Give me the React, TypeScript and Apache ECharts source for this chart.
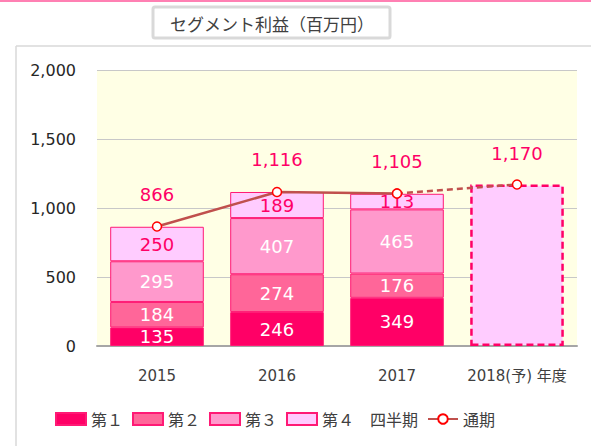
import React, { useEffect, useRef } from "react";
import * as echarts from "echarts";

const categories = ["2015", "2016", "2017", "2018(予) 年度"];
const q1 = [135, 246, 349, "-"];
const q2 = [184, 274, 176, "-"];
const q3 = [295, 407, 465, "-"];
const q4 = [250, 189, 113, "-"];
const forecast = ["-", "-", "-", 1170];
const totalsActual = [866, 1116, 1105, "-"];
const totalsForecast = ["-", "-", 1105, 1170];
const yTicks = { min: 0, max: 2000, interval: 500 };

const FONT = "'DejaVu Sans', 'Noto Sans CJK JP', sans-serif";
const JP = "'Noto Sans CJK JP', 'DejaVu Sans', sans-serif";

const fmt = (v: number) => Number(v).toLocaleString("en-US");

export default function App() {
  const ref = useRef<HTMLDivElement>(null);
  useEffect(() => {
    if (!ref.current) return;
    const chart = echarts.init(ref.current, null, { renderer: "svg" });
    const barBase = (name: string, data: any[], fill: string, labelColor: string) => ({
      name,
      type: "bar",
      stack: "q",
      data,
      barWidth: "78%",
      itemStyle: { color: fill, borderColor: "#ff1a75", borderWidth: 1 },
      label: {
        show: true,
        position: "inside",
        color: labelColor,
        fontSize: 18,
        fontFamily: FONT,
      },
      z: 2,
    });
    chart.setOption({
      animation: false,
      textStyle: { fontFamily: FONT },
      graphic: [
        { type: "line", shape: { x1: 0, y1: 1, x2: 591, y2: 1 }, style: { stroke: "#ff80b3", lineWidth: 2 } },
        { type: "line", shape: { x1: 16, y1: 46, x2: 591, y2: 46 }, style: { stroke: "#d9d9d9", lineWidth: 1.5 } },
        { type: "line", shape: { x1: 16, y1: 46, x2: 16, y2: 446 }, style: { stroke: "#d9d9d9", lineWidth: 1.5 } },
        {
          type: "rect",
          shape: { x: 153, y: 7, width: 237, height: 31, r: 2 },
          style: { fill: "#ffffff", stroke: "#d9d9d9", lineWidth: 3 },
        },
        {
          type: "text",
          x: 272,
          y: 23,
          style: {
            text: "セグメント利益（百万円）",
            fill: "#404040",
            font: `17px ${JP}`,
            align: "center",
            verticalAlign: "middle",
          },
        },
      ],
      grid: {
        left: 97,
        right: 14,
        top: 70,
        bottom: 100,
        show: true,
        backgroundColor: "#ffffe5",
        borderWidth: 0,
      },
      legend: {
        left: 50,
        top: 406,
        itemWidth: 30,
        itemHeight: 12,
        itemGap: 9,
        data: [
          { name: "第１", icon: "rect" },
          { name: "第２", icon: "rect" },
          { name: "第３", icon: "rect" },
          { name: "第４", icon: "rect" },
          { name: "通期" },
        ],
        formatter: (n: string) => (n === "第４" ? "第４　四半期" : n),
        textStyle: { fontSize: 16, color: "#404040", fontFamily: JP },
      },
      xAxis: {
        type: "category",
        data: categories,
        axisLine: { lineStyle: { color: "#a6a6a6", width: 2 } },
        axisTick: { show: false },
        axisLabel: { color: "#404040", fontSize: 15, margin: 22, interval: 0, fontFamily: FONT },
      },
      yAxis: {
        type: "value",
        min: yTicks.min,
        max: yTicks.max,
        interval: yTicks.interval,
        axisLine: { show: false },
        axisTick: { show: false },
        splitLine: { lineStyle: { color: "#c8c8c8", width: 1 } },
        axisLabel: { color: "#262626", fontSize: 16, margin: 21, formatter: (v: number) => fmt(v), fontFamily: FONT },
      },
      series: [
        barBase("第１", q1, "#ff0066", "#ffffff"),
        barBase("第２", q2, "#ff6699", "#ffffff"),
        barBase("第３", q3, "#ff99cc", "#ffffff"),
        barBase("第４", q4, "#ffccff", "#ff0066"),
        {
          name: "予想",
          type: "bar",
          stack: "q",
          data: forecast,
          barWidth: "78%",
          itemStyle: {
            color: "#ffccff",
            borderColor: "#ff0066",
            borderWidth: 2.5,
            borderType: [7, 4],
          },
          z: 2,
        },
        {
          name: "通期",
          type: "line",
          data: totalsActual,
          symbol: "circle",
          symbolSize: 9,
          lineStyle: { color: "#c0504d", width: 2.5 },
          itemStyle: { color: "#ffffff", borderColor: "#ff0000", borderWidth: 1.5 },
          label: {
            show: true,
            position: "top",
            distance: 18,
            color: "#ff0066",
            fontSize: 18,
            fontFamily: FONT,
            formatter: (p: any) => fmt(p.value),
          },
          z: 5,
        },
        {
          name: "通期予",
          type: "line",
          data: totalsForecast,
          symbol: "circle",
          symbolSize: 9,
          lineStyle: { color: "#c0504d", width: 2.5, type: [6, 4] },
          itemStyle: { color: "#ffffff", borderColor: "#ff0000", borderWidth: 1.5 },
          label: {
            show: true,
            position: "top",
            distance: 17,
            color: "#ff0066",
            fontSize: 18,
            fontFamily: FONT,
            formatter: (p: any) => (p.dataIndex === 3 ? fmt(p.value) : ""),
          },
          z: 4,
        },
      ],
    });
    return () => chart.dispose();
  }, []);
  return (
    <div
      ref={ref}
      style={{ position: "fixed", left: 0, top: 0, width: 591, height: 446, background: "#ffffff" }}
    />
  );
}
